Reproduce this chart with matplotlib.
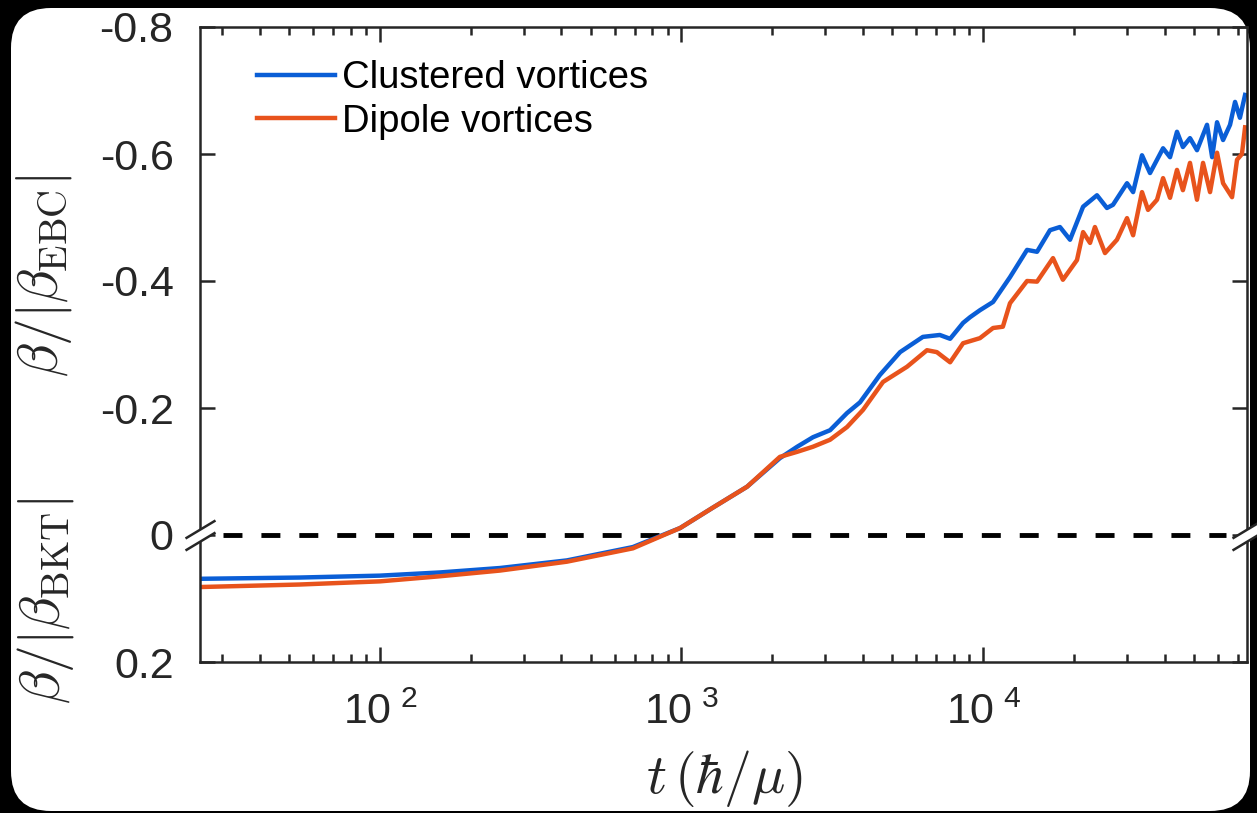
import numpy as np
import matplotlib
matplotlib.use("Agg")
import matplotlib.pyplot as plt
from matplotlib.path import Path
from matplotlib.patches import FancyBboxPatch
from matplotlib.transforms import IdentityTransform

plt.rcParams['font.family'] = ['Liberation Sans', 'DejaVu Sans']
plt.rcParams['mathtext.fontset'] = 'cm'

# data
t_clustered = [25, 54, 100, 158, 250, 417, 690, 990,
               1270, 1650, 2120, 2420, 2730, 3110, 3540, 3910,
               4550, 5310, 6320, 7190, 7780, 8590, 9060, 9770,
               10800, 12290, 14000, 15110, 16680, 18000, 19440, 21480,
               23880, 25770, 26990, 30040, 31470, 33680, 35810, 39560,
               41720, 44000, 46030, 48590, 51260, 55340, 57550, 59740,
               62560, 65980, 68550, 71150, 74000]
beta_clustered = [0.069, 0.067, 0.064, 0.059, 0.052, 0.040, 0.019, -0.011,
                  -0.043, -0.076, -0.121, -0.139, -0.154, -0.165, -0.192, -0.209,
                  -0.252, -0.288, -0.312, -0.315, -0.309, -0.334, -0.343, -0.354,
                  -0.367, -0.406, -0.449, -0.446, -0.480, -0.485, -0.465, -0.517,
                  -0.535, -0.515, -0.520, -0.554, -0.540, -0.598, -0.570, -0.609,
                  -0.595, -0.635, -0.611, -0.625, -0.606, -0.646, -0.595, -0.650,
                  -0.622, -0.646, -0.682, -0.657, -0.693]

t_dipole = [25, 54, 100, 158, 250, 417, 690, 990,
            1270, 1650, 2120, 2420, 2730, 3110, 3540, 4000,
            4660, 5600, 6520, 7030, 7780, 8590, 9770, 10800,
            11640, 12290, 14000, 15110, 17070, 18410, 20500, 21480,
            22650, 23510, 25390, 27820, 30040, 31470, 33680, 35270,
            37780, 39560, 41720, 44000, 46030, 48590, 51260, 53680,
            56630, 59740, 62560, 66990, 69600, 72250, 74000]
beta_dipole = [0.082, 0.078, 0.073, 0.065, 0.056, 0.042, 0.021, -0.011,
               -0.043, -0.076, -0.123, -0.131, -0.139, -0.150, -0.170, -0.197,
               -0.241, -0.265, -0.291, -0.288, -0.272, -0.302, -0.310, -0.326,
               -0.328, -0.365, -0.400, -0.399, -0.436, -0.402, -0.433, -0.477,
               -0.460, -0.485, -0.444, -0.465, -0.499, -0.472, -0.540, -0.512,
               -0.528, -0.562, -0.531, -0.575, -0.543, -0.586, -0.528, -0.586,
               -0.540, -0.602, -0.554, -0.532, -0.591, -0.600, -0.642]

yticks = [-0.8, -0.6, -0.4, -0.2, 0, 0.2]
ytick_labels = ['-0.8', '-0.6', '-0.4', '-0.2', '0', '0.2']
xticks = [1e2, 1e3, 1e4]
xtick_labels = [r'$\mathregular{10^{\ 2}}$', r'$\mathregular{10^{\ 3}}$', r'$\mathregular{10^{\ 4}}$']

axcol = '#262626'
blue = '#0a5ed6'
orange = '#e8531c'

fig = plt.figure(figsize=(12.57, 8.13), dpi=100, facecolor='black')
# white rounded card
card = FancyBboxPatch((11, 2), 1239, 803, boxstyle='round,pad=0,rounding_size=40',
                      transform=IdentityTransform(), facecolor='white',
                      edgecolor='none', zorder=-10)
fig.add_artist(card)

ax = fig.add_axes([200/1257, 151/813, 1047/1257, 635/813])
ax.plot(t_clustered, beta_clustered, color=blue, lw=3.2, label='Clustered vortices')
ax.plot(t_dipole, beta_dipole, color=orange, lw=3.2, label='Dipole vortices')
ax.axhline(0, xmin=0.022, xmax=0.98, color='black', lw=3.5, dashes=(3.9, 3.9), zorder=1)

ax.set_xscale('log')
ax.set_xlim(25.3, 75100)
ax.set_ylim(0.2, -0.8)
ax.set_yticks(yticks)
ax.set_yticklabels(ytick_labels)
ax.set_xticks(xticks)
ax.set_xticklabels(xtick_labels)

for s in ax.spines.values():
    s.set_linewidth(1.8)
    s.set_color(axcol)
ax.tick_params(which='both', direction='in', top=True, right=True, color=axcol,
               labelcolor=axcol, labelsize=31, width=1.8)
ax.tick_params(which='major', length=11)
ax.tick_params(which='minor', length=6)
ax.tick_params(axis='y', pad=19)
ax.tick_params(axis='x', pad=22)

# axis break marks on both spines at y = 0
slash = Path([(-15, -3), (15, 15), (-15, -15), (15, 3)],
             [Path.MOVETO, Path.LINETO, Path.MOVETO, Path.LINETO])
gap = Path([(-15, -3), (15, 15), (15, 3), (-15, -15), (-15, -3)],
           [Path.MOVETO, Path.LINETO, Path.LINETO, Path.LINETO, Path.CLOSEPOLY])
trans = ax.get_yaxis_transform()
ax.plot([0, 1], [0, 0], transform=trans, linestyle='none', marker=gap, markersize=21.6,
        markerfacecolor='white', markeredgecolor='none', clip_on=False, zorder=5)
ax.plot([0, 1], [0, 0], transform=trans, linestyle='none', marker=slash, markersize=21.6,
        markerfacecolor='none', markeredgecolor=axcol, markeredgewidth=1.8,
        clip_on=False, zorder=6)

ax.legend(loc='upper left', bbox_to_anchor=(0.054, 0.948), frameon=False, fontsize=27.5,
          handlelength=2.05, handletextpad=0.2, labelspacing=0.2, borderpad=0,
          borderaxespad=0)

fig.text(724/1257, 1 - 778/813, r'$t\,(\hbar/\mu)$', fontsize=40, color=axcol,
         ha='center', va='center')
fig.text(43/1257, 1 - 276/813, r'$\beta/|\beta_{\rm EBC}|$', fontsize=40, color=axcol,
         rotation=90, ha='center', va='center')
fig.text(45/1257, 1 - 601/813, r'$\beta/|\beta_{\rm BKT}|$', fontsize=40, color=axcol,
         rotation=90, ha='center', va='center')

fig.savefig('out.png', dpi=100, facecolor='black')
